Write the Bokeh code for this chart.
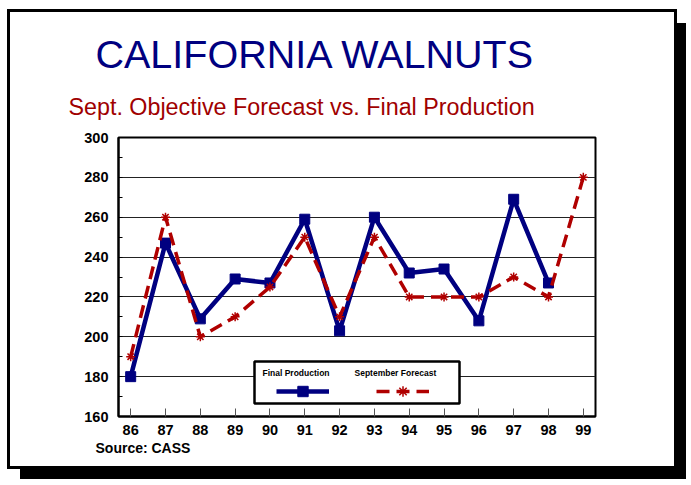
from bokeh.plotting import figure
from bokeh.models import (Range1d, SingleIntervalTicker, FixedTicker, Label,
                          Legend, LegendItem, BoxAnnotation, Title)
from bokeh.embed import file_html
from bokeh.resources import INLINE

# ---- data ----
years = [86, 87, 88, 89, 90, 91, 92, 93, 94, 95, 96, 97, 98]
final_production = [180, 247, 209, 229, 227, 259, 203, 260, 232, 234, 208, 269, 227]
forecast_years = [86, 87, 88, 89, 90, 91, 92, 93, 94, 95, 96, 97, 98, 99]
sept_forecast = [190, 260, 200, 210, 225, 250, 210, 250, 220, 220, 220, 230, 220, 280]
y_min, y_max, y_step = 160, 300, 20

title_text = "CALIFORNIA WALNUTS"
subtitle_text = "Sept. Objective Forecast vs. Final Production"
source_text = "Source:  CASS"
series_names = ["Final Production", "September Forecast"]

NAVY = "#000080"
RED = "#B00000"
FONT = "Liberation Sans"

p = figure(width=670, height=460, output_backend="svg", toolbar_location=None,
           x_range=Range1d(85.65, 99.35), y_range=Range1d(y_min, y_max),
           min_border_left=108, min_border_right=85, min_border_top=125,
           min_border_bottom=56)
p.styles = {"border": "3px solid black",
            "box-shadow": "11px 12px 0px -2px black",
            "margin-left": "7px", "margin-top": "9px"}
p.background_fill_color = "white"
p.border_fill_color = "white"
p.outline_line_color = "black"
p.outline_line_width = 2

# axes
p.xaxis.ticker = FixedTicker(ticks=forecast_years)
p.yaxis.ticker = SingleIntervalTicker(interval=y_step, num_minor_ticks=2)
for ax in (p.xaxis, p.yaxis):
    ax.axis_line_color = "black"
    ax.axis_line_width = 2
    ax.major_label_text_font = FONT
    ax.major_label_text_font_size = "14.5px"
    ax.major_label_text_font_style = "bold"
    ax.major_label_text_color = "black"
    ax.major_tick_out = 0
p.xaxis.major_tick_in = 8
p.xaxis.major_tick_line_color = "#555555"
p.xaxis.minor_tick_line_color = None
p.xaxis.major_label_standoff = 8
p.yaxis.major_tick_in = 0
p.yaxis.minor_tick_in = 4
p.yaxis.minor_tick_out = 0
p.yaxis.minor_tick_line_color = "black"
p.yaxis.major_label_standoff = 10

p.xgrid.grid_line_color = None
p.ygrid.ticker = SingleIntervalTicker(interval=y_step)
p.ygrid.grid_line_color = "#222222"
p.ygrid.grid_line_width = 1

# series
l1 = p.line(years, final_production, line_color=NAVY, line_width=4.5)
s1 = p.scatter(years, final_production, marker="square", size=10,
               fill_color=NAVY, line_color=NAVY)
l2 = p.line(forecast_years, sept_forecast, line_color=RED, line_width=3.5,
            line_dash="13 7")
s2 = p.scatter(forecast_years, sept_forecast, marker="asterisk", size=9,
               line_color=RED, line_width=1.5)

# legend box
box = BoxAnnotation(left=136, right=341, top=55, bottom=13,
                    left_units="screen", right_units="screen",
                    top_units="screen", bottom_units="screen",
                    fill_color="white", fill_alpha=1.0,
                    line_color="black", line_alpha=1.0, line_width=2.5)
p.add_layout(box)

legend = Legend(items=[LegendItem(label="\u00a0", renderers=[l1, s1]),
                       LegendItem(label="\u00a0", renderers=[l2, s2])],
                orientation="horizontal", location=(158, 12),
                glyph_width=53, glyph_height=26, label_width=0,
                label_height=26, label_standoff=0,
                label_text_font_size="1px", spacing=47, padding=0, margin=0,
                border_line_alpha=0, background_fill_alpha=0)
p.add_layout(legend)

for txt, x in zip(series_names, [144, 236]):
    p.add_layout(Label(x=x, y=43.5, x_units="screen", y_units="screen",
                       text=txt, text_font=FONT, text_font_size="8.5px",
                       text_font_style="bold", text_align="left",
                       text_baseline="middle", text_color="black"))

# titles
p.add_layout(Title(text=subtitle_text, align="left", offset=-50,
                   text_font=FONT, text_font_size="23.3px",
                   text_font_style="normal", text_color="#A00000",
                   standoff=36), "above")
main_title = Title(text=title_text, align="left", offset=-23,
                   text_font=FONT, text_font_size="39.5px",
                   text_font_style="normal", text_color=NAVY, standoff=0)
try:
    main_title.standoff = -5
except Exception:
    main_title.standoff = 0
p.add_layout(main_title, "above")
p.add_layout(Title(text=source_text, align="left", offset=-23,
                   text_font=FONT, text_font_size="14px",
                   text_font_style="bold", text_color="black",
                   standoff=0), "below")

open("out.html", "w").write(file_html(p, INLINE))
